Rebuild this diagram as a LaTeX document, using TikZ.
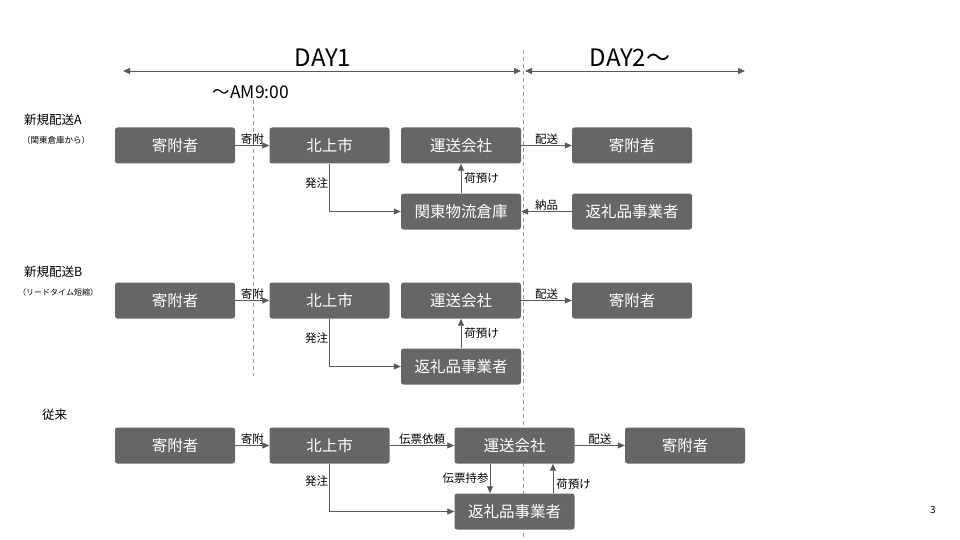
\documentclass[tikz,border=0pt]{standalone}
\usepackage{fontspec}
\setmainfont{Noto Sans CJK JP}
\usetikzlibrary{arrows.meta}
\definecolor{boxgray}{HTML}{666666}
\definecolor{linegray}{HTML}{595959}
\tikzset{
  box/.style={draw=none,fill=boxgray,rounded corners=2.5pt,minimum width=120pt,minimum height=36pt,inner sep=0pt,text=white,font=\fontsize{15.5}{17}\selectfont},
  conn/.style={draw=linegray,line width=0.8pt,-{Triangle[length=7pt,width=6pt]}},
  lbl/.style={font=\fontsize{11.5}{13}\selectfont,text=black,inner sep=1pt},
  vdash/.style={draw=gray!80,dashed,line width=0.6pt,dash pattern=on 4pt off 3pt},
  dayarrow/.style={draw=linegray,line width=0.8pt,{Triangle[length=7pt,width=6pt]}-{Triangle[length=7pt,width=6pt]}},
}
\begin{document}
\begin{tikzpicture}[x=1pt,y=-1pt]
\useasboundingbox (0,0) rectangle (960,540);
% dashed lines
\coordinate (d1t) at (253,100); \coordinate (d1b) at (253,376);
\coordinate (d2t) at (523,50); \coordinate (d2b) at (523,540);
\draw[vdash] (d1t) -- (d1b);
\draw[vdash] (d2t) -- (d2b);
% day arrows
\coordinate (a1l) at (123,71); \coordinate (a1r) at (521,71);
\coordinate (a2l) at (525,71); \coordinate (a2r) at (745,71);
\draw[dayarrow] (a1l) -- (a1r);
\draw[dayarrow] (a2l) -- (a2r);
\node[font=\fontsize{24}{26}\selectfont] (day1) at (323,58) {DAY1};
\node[font=\fontsize{24}{26}\selectfont] (day2) at (630,58) {DAY2〜};
\node[font=\fontsize{17.5}{19}\selectfont] (am) at (251,92) {〜AM9:00};
% row headers
\node[anchor=west,font=\fontsize{12.5}{14}\selectfont,inner sep=0pt] (hA) at (24,120) {新規配送A};
\node[anchor=west,font=\fontsize{8.5}{10}\selectfont,inner sep=0pt] (hAs) at (22,140) {（関東倉庫から）};
\node[anchor=west,font=\fontsize{12.5}{14}\selectfont,inner sep=0pt] (hB) at (24,272) {新規配送B};
\node[anchor=west,font=\fontsize{8}{10}\selectfont,inner sep=0pt] (hBs) at (18,292) {（リードタイム短縮）};
\node[anchor=west,font=\fontsize{12.5}{14}\selectfont,inner sep=0pt] (hC) at (42,415) {従来};
% Row A
\node[box] (a1) at (175,145.5) {寄附者};
\node[box] (a2) at (329.5,145.5) {北上市};
\node[box] (a3) at (461,145.5) {運送会社};
\node[box] (a4) at (632,145.5) {寄附者};
\node[box] (a5) at (461,211.5) {関東物流倉庫};
\node[box] (a6) at (632,211.5) {返礼品事業者};
\draw[conn] (a1) -- node[lbl,above] {寄附} (a2);
\draw[conn] (a2.south) |- node[lbl,pos=0.2,left] {発注} (a5.west);
\draw[conn] (a5) -- node[lbl,right,xshift=2pt] {荷預け} (a3);
\draw[conn] (a3) -- node[lbl,above] {配送} (a4);
\draw[conn] (a6) -- node[lbl,above] {納品} (a5);
% Row B
\node[box] (b1) at (175,300.5) {寄附者};
\node[box] (b2) at (329.5,300.5) {北上市};
\node[box] (b3) at (461,300.5) {運送会社};
\node[box] (b4) at (632,300.5) {寄附者};
\node[box] (b5) at (461,366.5) {返礼品事業者};
\draw[conn] (b1) -- node[lbl,above] {寄附} (b2);
\draw[conn] (b2.south) |- node[lbl,pos=0.2,left] {発注} (b5.west);
\draw[conn] (b5) -- node[lbl,right,xshift=2pt] {荷預け} (b3);
\draw[conn] (b3) -- node[lbl,above] {配送} (b4);
% Row C
\node[box] (c1) at (175,445.5) {寄附者};
\node[box] (c2) at (329.5,445.5) {北上市};
\node[box] (c3) at (514.5,445.5) {運送会社};
\node[box] (c4) at (685,445.5) {寄附者};
\node[box] (c5) at (514.5,511.5) {返礼品事業者};
\draw[conn] (c1) -- node[lbl,above] {寄附} (c2);
\draw[conn] (c2) -- node[lbl,above] {伝票依頼} (c3);
\draw[conn] (c3) -- node[lbl,above] {配送} (c4);
\draw[conn] (c2.south) |- node[lbl,pos=0.18,left] {発注} (c5.west);
\draw[conn] ([xshift=-24.5pt]c3.south) -- node[lbl,left] {伝票持参} ([xshift=-24.5pt]c5.north);
\draw[conn] ([xshift=38.5pt]c5.north) -- node[lbl,pos=0.3,right,xshift=2pt] {荷預け} ([xshift=38.5pt]c3.south);
% page number
\node[font=\fontsize{10}{12}\selectfont] (pg) at (933,510) {3};
\end{tikzpicture}
\end{document}
